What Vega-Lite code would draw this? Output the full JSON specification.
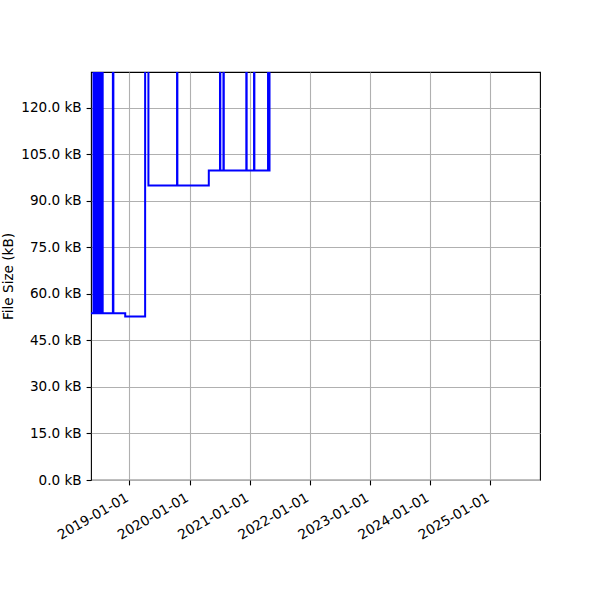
{
  "$schema": "https://vega.github.io/schema/vega-lite/v6.json",
  "width": 449,
  "height": 408,
  "autosize": {"type": "none"},
  "padding": {"left": 91, "top": 72, "right": 60, "bottom": 120},
  "background": "white",
  "config": {
    "font": "DejaVu Sans",
    "view": {"stroke": "black", "strokeWidth": 1.1},
    "axis": {
      "labelFont": "DejaVu Sans",
      "titleFont": "DejaVu Sans",
      "labelFontSize": 13.6,
      "titleFontSize": 13.6,
      "labelColor": "black",
      "titleColor": "black",
      "titleFontWeight": "normal",
      "domain": false,
      "tickColor": "black",
      "tickSize": 4.9,
      "tickWidth": 1.1,
      "labelPadding": 4.9,
      "gridColor": "#b0b0b0",
      "gridWidth": 1.1,
      "gridOpacity": 1
    }
  },
  "data": {
    "values": [
      {"date": "2018-05-10", "kb": 53.8},
      {"date": "2018-05-27", "kb": 200},
      {"date": "2018-05-29", "kb": 53.8},
      {"date": "2018-06-02", "kb": 200},
      {"date": "2018-06-06", "kb": 53.8},
      {"date": "2018-06-09", "kb": 200},
      {"date": "2018-06-13", "kb": 53.8},
      {"date": "2018-06-17", "kb": 200},
      {"date": "2018-06-21", "kb": 53.8},
      {"date": "2018-06-25", "kb": 200},
      {"date": "2018-06-29", "kb": 53.8},
      {"date": "2018-07-03", "kb": 200},
      {"date": "2018-07-07", "kb": 53.8},
      {"date": "2018-07-11", "kb": 200},
      {"date": "2018-07-15", "kb": 53.8},
      {"date": "2018-07-18", "kb": 200},
      {"date": "2018-07-22", "kb": 53.8},
      {"date": "2018-09-22", "kb": 200},
      {"date": "2018-09-25", "kb": 53.8},
      {"date": "2018-12-06", "kb": 52.7},
      {"date": "2019-04-06", "kb": 200},
      {"date": "2019-04-26", "kb": 95.0},
      {"date": "2019-10-17", "kb": 200},
      {"date": "2019-10-19", "kb": 95.0},
      {"date": "2020-04-27", "kb": 99.8},
      {"date": "2020-07-04", "kb": 200},
      {"date": "2020-07-06", "kb": 99.8},
      {"date": "2020-07-25", "kb": 200},
      {"date": "2020-07-27", "kb": 99.8},
      {"date": "2020-12-11", "kb": 200},
      {"date": "2020-12-13", "kb": 99.8},
      {"date": "2021-01-27", "kb": 200},
      {"date": "2021-01-29", "kb": 99.8},
      {"date": "2021-04-22", "kb": 200},
      {"date": "2021-04-24", "kb": 99.8},
      {"date": "2021-05-01", "kb": 200},
      {"date": "2025-06-01", "kb": 200}
    ]
  },
  "mark": {"type": "line", "color": "#0000ff", "strokeWidth": 2, "interpolate": "step-after", "clip": true},
  "encoding": {
    "x": {
      "field": "date",
      "type": "temporal",
      "scale": {
        "type": "utc",
        "domain": [
          {"year": 2018, "month": 5, "date": 12, "utc": true},
          {"year": 2025, "month": 10, "date": 31, "utc": true}
        ]
      },
      "axis": {
        "title": null,
        "values": [
          {"year": 2019, "month": 1, "date": 1, "utc": true},
          {"year": 2020, "month": 1, "date": 1, "utc": true},
          {"year": 2021, "month": 1, "date": 1, "utc": true},
          {"year": 2022, "month": 1, "date": 1, "utc": true},
          {"year": 2023, "month": 1, "date": 1, "utc": true},
          {"year": 2024, "month": 1, "date": 1, "utc": true},
          {"year": 2025, "month": 1, "date": 1, "utc": true}
        ],
        "labelExpr": "utcFormat(datum.value, '%Y-%m-%d')",
        "labelAngle": -30,
        "labelAlign": "right",
        "labelBaseline": "top",
        "labelOffset": -6,
        "labelPadding": 5.5,
        "labelFlush": false,
        "labelOverlap": false
      }
    },
    "y": {
      "field": "kb",
      "type": "quantitative",
      "scale": {"domain": [0, 131.6], "nice": false, "zero": false},
      "axis": {
        "title": "File Size (kB)",
        "values": [0, 15, 30, 45, 60, 75, 90, 105, 120],
        "labelExpr": "format(datum.value, '.1f') + ' kB'",
        "titlePadding": 5,
        "labelFlush": false
      }
    }
  }
}
